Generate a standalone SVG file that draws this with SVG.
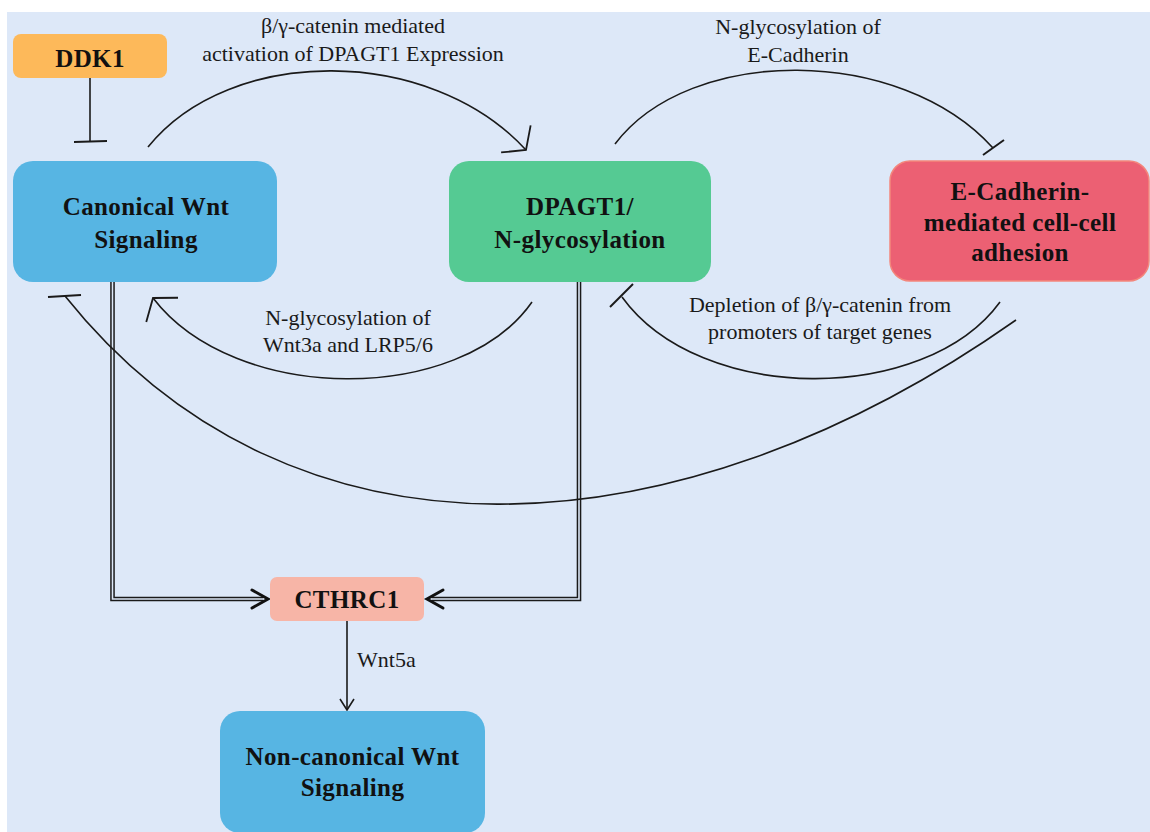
<svg xmlns="http://www.w3.org/2000/svg" width="1150" height="832" viewBox="0 0 1150 832">
<style>
.node-text{font-family:"Liberation Serif","Times New Roman",serif;font-weight:bold;font-size:25px;fill:#111;text-anchor:middle;letter-spacing:0.4px}
.label{font-family:"Liberation Serif","Times New Roman",serif;font-size:22px;fill:#1a1a1a;text-anchor:middle}
.edge{fill:none;stroke:#1a1a1a;stroke-width:1.6}
.bar{stroke:#1a1a1a;stroke-width:2}
.dbl-out{fill:none;stroke:#1a1a1a;stroke-width:4.6;stroke-linejoin:miter}
.dbl-in{fill:none;stroke:#dde8f8;stroke-width:1.6;stroke-linejoin:miter}
.thick-head{fill:none;stroke:#111;stroke-width:3;stroke-linecap:round;stroke-linejoin:miter}
</style>
<defs>
<marker id="arrowOpen" markerUnits="userSpaceOnUse" markerWidth="40" markerHeight="50" refX="0" refY="0" orient="auto" overflow="visible">
<path d="M-15,-20 L0,0 L-15,20" fill="none" stroke="#1a1a1a" stroke-width="1.8"/>
</marker>
<marker id="arrowSmall" markerUnits="userSpaceOnUse" markerWidth="30" markerHeight="30" refX="0" refY="0" orient="auto" overflow="visible">
<path d="M-11,-7 L0,0 L-11,7" fill="none" stroke="#1a1a1a" stroke-width="1.6"/>
</marker>
</defs>
<rect x="0" y="0" width="1150" height="832" fill="#ffffff"/>
<rect x="7" y="12" width="1143" height="820" fill="#dde8f8"/>

<g id="connectors">
<!-- DDK1 inhibits Canonical Wnt -->
<line class="edge" x1="90" y1="78" x2="90" y2="141.5"/>
<line class="bar" x1="74" y1="142" x2="107" y2="141"/>
<!-- Canonical -> DPAGT1 -->
<path class="edge" d="M148,147 C230,45 430,45 526,150" marker-end="url(#arrowOpen)"/>
<!-- DPAGT1 -| E-Cadherin -->
<path class="edge" d="M615,144 C690,45 900,45 993,148"/>
<line class="bar" x1="983" y1="155" x2="1004" y2="140"/>
<!-- DPAGT1 -> Canonical -->
<path class="edge" d="M532,302 C460,405 235,405 153,298" marker-end="url(#arrowOpen)"/>
<!-- E-Cadherin -| DPAGT1 -->
<path class="edge" d="M1000,302 C925,405 700,405 622,297"/>
<line class="bar" x1="610" y1="307" x2="633" y2="284"/>
<!-- double lines to CTHRC1 -->
<path class="dbl-out" d="M112.5,282 V599 H263"/>
<path class="dbl-in" d="M112.5,282 V599 H263"/>
<polyline class="thick-head" points="252,590 268,599 252,608"/>
<path class="dbl-out" d="M579,282 V599 H432"/>
<path class="dbl-in" d="M579,282 V599 H432"/>
<polyline class="thick-head" points="443,590 427,599 443,608"/>
<!-- E-Cadherin -| Canonical (long arc) -->
<path class="edge" d="M1016,320 C675,560 291,579 65,296"/>
<line class="bar" x1="48" y1="297" x2="81" y2="295"/>
<!-- CTHRC1 -> Non-canonical -->
<line class="edge" x1="347" y1="621" x2="347" y2="710" marker-end="url(#arrowSmall)"/>
</g>

<g id="edge-labels">
<text class="label" x="353" y="33">β/γ-catenin mediated</text>
<text class="label" x="353" y="61">activation of DPAGT1 Expression</text>
<text class="label" x="798" y="34">N-glycosylation of</text>
<text class="label" x="798" y="62">E-Cadherin</text>
<text class="label" x="348" y="325">N-glycosylation of</text>
<text class="label" x="348" y="352">Wnt3a and LRP5/6</text>
<text class="label" x="820" y="312">Depletion of β/γ-catenin from</text>
<text class="label" x="820" y="339">promoters of target genes</text>
<text class="label" x="357" y="667" style="text-anchor:start">Wnt5a</text>
</g>

<g id="node-ddk1">
<rect x="13" y="34" width="154" height="44" rx="8" fill="#fdb95a"/>
<text class="node-text" x="90" y="67">DDK1</text>
</g>
<g id="node-canonical">
<rect x="13" y="161" width="264" height="121" rx="20" fill="#57b5e3"/>
<text class="node-text" x="146" y="215">Canonical Wnt</text>
<text class="node-text" x="146" y="248">Signaling</text>
</g>
<g id="node-dpagt1">
<rect x="449" y="161" width="262" height="121" rx="20" fill="#55ca93"/>
<text class="node-text" x="580" y="215">DPAGT1/</text>
<text class="node-text" x="580" y="248">N-glycosylation</text>
</g>
<g id="node-ecadherin">
<rect x="890" y="161" width="259" height="120" rx="20" fill="#ec6073" stroke="#f3867c" stroke-width="1.5"/>
<text class="node-text" x="1020" y="200">E-Cadherin-</text>
<text class="node-text" x="1020" y="231">mediated cell-cell</text>
<text class="node-text" x="1020" y="261">adhesion</text>
</g>
<g id="node-cthrc1">
<rect x="270" y="577" width="154" height="44" rx="7" fill="#f7b5a7"/>
<text class="node-text" x="347" y="608">CTHRC1</text>
</g>
<g id="node-noncanonical">
<rect x="220" y="711" width="265" height="122" rx="20" fill="#57b5e3"/>
<text class="node-text" x="352.5" y="765">Non-canonical Wnt</text>
<text class="node-text" x="352.5" y="796">Signaling</text>
</g>
</svg>
